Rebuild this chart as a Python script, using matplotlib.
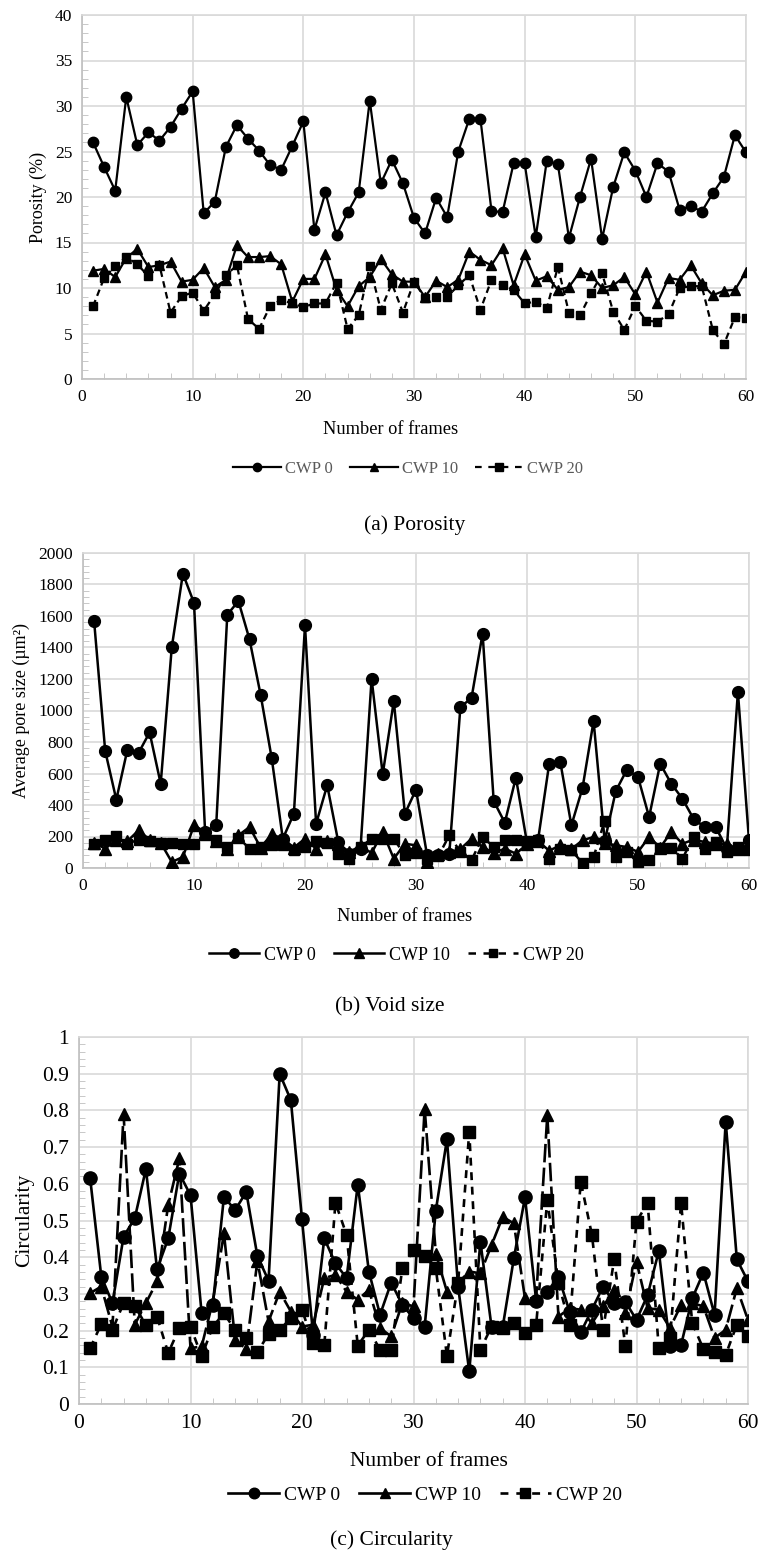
import numpy as np
import matplotlib
matplotlib.use("Agg")
import matplotlib.pyplot as plt
from matplotlib.lines import Line2D
from matplotlib.ticker import MultipleLocator, FuncFormatter

plt.rcParams['font.family'] = ['Liberation Serif', 'DejaVu Serif']

frames = np.arange(1, 61)
series_names = ["CWP 0", "CWP 10", "CWP 20"]

# (a) porosity, %
porosity_cwp0 = [26.0, 23.3, 20.7, 31.0, 25.7, 27.1, 26.2, 27.7, 29.7, 31.6,
                 18.2, 19.5, 25.5, 27.9, 26.4, 25.1, 23.5, 23.0, 25.6, 28.3,
                 16.4, 20.5, 15.8, 18.3, 20.5, 30.6, 21.5, 24.1, 21.5, 17.7,
                 16.0, 19.9, 17.8, 25.0, 28.6, 28.6, 18.5, 18.3, 23.7, 23.7,
                 15.6, 24.0, 23.6, 15.5, 20.0, 24.2, 15.4, 21.1, 24.9, 22.9,
                 20.0, 23.7, 22.8, 18.6, 19.0, 18.4, 20.4, 22.2, 26.8, 24.9]
porosity_cwp10 = [11.9, 12.1, 11.2, 13.3, 14.3, 12.3, 12.5, 12.9, 10.7, 10.9,
                  12.2, 10.1, 10.9, 14.7, 13.4, 13.4, 13.5, 12.6, 8.5, 11.0,
                  11.0, 13.7, 9.8, 8.0, 10.2, 11.2, 13.2, 11.5, 10.7, 10.7,
                  9.0, 10.8, 10.1, 10.9, 14.0, 13.1, 12.5, 14.4, 10.3, 13.7,
                  10.8, 11.3, 9.8, 10.1, 11.8, 11.4, 10.0, 10.3, 11.2, 9.3,
                  11.8, 8.4, 11.1, 10.9, 12.5, 10.5, 9.2, 9.7, 9.8, 11.8]
porosity_cwp20 = [8.0, 11.1, 12.4, 13.4, 12.6, 11.3, 12.5, 7.3, 9.1, 9.5,
                  7.5, 9.3, 11.4, 12.5, 6.6, 5.5, 8.0, 8.7, 8.3, 7.9,
                  8.3, 8.3, 10.6, 5.5, 7.0, 12.4, 7.6, 10.5, 7.3, 10.7,
                  8.9, 9.0, 9.0, 10.3, 11.4, 7.6, 10.9, 10.3, 9.8, 8.3,
                  8.5, 7.8, 12.3, 7.3, 7.0, 9.4, 11.6, 7.4, 5.4, 8.0,
                  6.4, 6.3, 7.1, 10.0, 10.2, 10.2, 5.4, 3.8, 6.8, 6.7]

# (b) average pore size, um^2
pore_cwp0 = [1568, 743, 434, 751, 730, 861, 535, 1403, 1869, 1683,
             230, 271, 1608, 1695, 1452, 1100, 698, 186, 345, 1541,
             281, 525, 165, 90, 123, 1202, 595, 1060, 345, 497,
             80, 80, 91, 1022, 1079, 1488, 425, 288, 574, 160,
             180, 662, 673, 271, 508, 933, 170, 489, 624, 578,
             324, 662, 535, 440, 313, 260, 260, 123, 1117, 176]
pore_cwp10 = [160, 123, 180, 170, 239, 180, 160, 38, 70, 271,
              229, 170, 120, 207, 260, 130, 214, 186, 130, 186,
              123, 170, 150, 102, 140, 95, 229, 59, 154, 144,
              38, 90, 100, 120, 186, 133, 95, 123, 91, 150,
              170, 110, 144, 120, 176, 197, 160, 144, 133, 102,
              197, 130, 229, 154, 180, 165, 154, 150, 120, 130]
pore_cwp20 = [154, 180, 201, 154, 180, 171, 161, 161, 150, 150,
              207, 176, 133, 193, 123, 133, 148, 144, 116, 133,
              171, 159, 91, 59, 133, 186, 186, 186, 80, 95,
              59, 74, 207, 102, 49, 197, 133, 176, 176, 171,
              180, 59, 123, 112, 32, 70, 300, 70, 102, 38,
              49, 129, 129, 59, 197, 123, 165, 102, 133, 112]

# (c) circularity
circ_cwp0 = [0.615, 0.347, 0.275, 0.456, 0.506, 0.640, 0.367, 0.451, 0.628, 0.569,
             0.247, 0.27, 0.565, 0.528, 0.578, 0.403, 0.336, 0.900, 0.828, 0.503,
             0.189, 0.451, 0.383, 0.343, 0.598, 0.361, 0.243, 0.331, 0.270, 0.234,
             0.211, 0.527, 0.721, 0.320, 0.089, 0.442, 0.21, 0.21, 0.397, 0.563,
             0.282, 0.306, 0.347, 0.252, 0.195, 0.257, 0.320, 0.275, 0.279, 0.229,
             0.297, 0.417, 0.157, 0.161, 0.288, 0.358, 0.243, 0.769, 0.394, 0.334]
circ_cwp10 = [0.302, 0.32, 0.21, 0.79, 0.216, 0.275, 0.334, 0.542, 0.669, 0.152,
              0.157, 0.279, 0.465, 0.175, 0.150, 0.39, 0.225, 0.306, 0.252, 0.211,
              0.216, 0.343, 0.352, 0.306, 0.284, 0.311, 0.207, 0.184, 0.275, 0.266,
              0.805, 0.41, 0.306, 0.33, 0.361, 0.356, 0.433, 0.510, 0.492, 0.288,
              0.288, 0.787, 0.238, 0.261, 0.257, 0.220, 0.266, 0.31, 0.248, 0.388,
              0.261, 0.257, 0.207, 0.270, 0.275, 0.266, 0.180, 0.202, 0.316, 0.229]
circ_cwp20 = [0.152, 0.218, 0.202, 0.275, 0.266, 0.216, 0.238, 0.139, 0.207, 0.211,
              0.130, 0.211, 0.247, 0.202, 0.180, 0.141, 0.191, 0.202, 0.234, 0.257,
              0.166, 0.161, 0.548, 0.461, 0.159, 0.202, 0.148, 0.148, 0.370, 0.420,
              0.403, 0.370, 0.131, 0.33, 0.742, 0.148, 0.211, 0.207, 0.220, 0.193,
              0.216, 0.556, 0.33, 0.216, 0.606, 0.461, 0.202, 0.394, 0.157, 0.497,
              0.548, 0.152, 0.180, 0.547, 0.220, 0.150, 0.143, 0.134, 0.216, 0.184]

W, H = 759, 1562
fig = plt.figure(figsize=(W / 100, H / 100), dpi=100)
GRID = "#d9d9d9"


def px_rect(left, top, right, bottom):
    return [left / W, 1 - bottom / H, (right - left) / W, (bottom - top) / H]


def panel(rect, data, ymax, ystep, yminor, ylabel, fs_tick, fs_label, fs_leg,
          ms, lw, ls10, ls20, leg_color, xlab_xy, leg_xy, cap_text, cap_xy,
          fs_xlab, fs_cap, handlelen):
    ax = fig.add_axes(px_rect(*rect))
    markers = ["o", "^", "s"]
    styles = ["-", ls10, ls20]
    sizes = [ms, ms * 0.95, ms * 0.85]
    for vals, mk, ls, sz in zip(data, markers, styles, sizes):
        ax.plot(frames, vals, color="black", linestyle=ls, linewidth=lw,
                marker=mk, markersize=sz, zorder=3)
    ax.set_xlim(0, 60)
    ax.set_ylim(0, ymax)
    ax.xaxis.set_major_locator(MultipleLocator(10))
    ax.xaxis.set_minor_locator(MultipleLocator(2))
    ax.yaxis.set_major_locator(MultipleLocator(ystep))
    ax.yaxis.set_minor_locator(MultipleLocator(yminor))
    ax.yaxis.set_major_formatter(FuncFormatter(lambda v, p: "%g" % round(v, 6)))
    ax.grid(True, which="major", color=GRID, linewidth=1.2, zorder=0)
    ax.set_axisbelow(True)
    for s in ax.spines.values():
        s.set_color(GRID)
        s.set_linewidth(1.2)
    ax.spines["left"].set_color("#bfbfbf")
    ax.spines["bottom"].set_color("#bfbfbf")
    ax.tick_params(which="major", length=0, labelsize=fs_tick, pad=7,
                   labelcolor="black")
    ax.tick_params(which="minor", direction="in", length=4, color="#bfbfbf",
                   top=False, right=False)
    ax.set_ylabel(ylabel, fontsize=fs_label, labelpad=6)
    fig.text(xlab_xy[0] / W, 1 - xlab_xy[1] / H, "Number of frames",
             fontsize=fs_xlab, ha="center", va="center")
    handles = [Line2D([], [], color="black", lw=lw, ls="-", marker="o", markersize=ms * 0.8),
               Line2D([], [], color="black", lw=lw, ls="-", marker="^", markersize=ms * 0.8),
               Line2D([], [], color="black", lw=lw, ls=(0, (3, 3)), marker="s", markersize=ms * 0.7)]
    fig.legend(handles, series_names, loc="center", ncol=3, frameon=False,
               bbox_to_anchor=(leg_xy[0] / W, 1 - leg_xy[1] / H),
               fontsize=fs_leg, labelcolor=leg_color, handlelength=handlelen,
               columnspacing=1.0, handletextpad=0.25)
    fig.text(cap_xy[0] / W, 1 - cap_xy[1] / H, cap_text, fontsize=fs_cap,
             ha="center", va="center")
    return ax


panel((82, 15, 746, 379), [porosity_cwp0, porosity_cwp10, porosity_cwp20],
      40, 5, 1, "Porosity (%)", 12.5, 13, 12, 7.5, 1.6, "-", (0, (3, 2)),
      "#595959", (391, 430), (408, 469), "(a) Porosity", (415, 525), 13.2, 15.5, 2.9)

panel((83, 553, 749, 868), [pore_cwp0, pore_cwp10, pore_cwp20],
      2000, 200, 40, "Average pore size (µm²)", 12.5, 13, 13, 8.5, 1.8, "-", (0, (3, 2)),
      "black", (405, 917), (396, 955), "(b) Void size", (390, 1007), 13.2, 15.5, 2.8)

panel((79, 1037, 748, 1404), [circ_cwp0, circ_cwp10, circ_cwp20],
      1, 0.1, 0.02, "Circularity", 15.5, 15.5, 14, 9.5, 1.9, (0, (7, 2)), (0, (3, 2.5)),
      "black", (429, 1462), (425, 1495), "(c) Circularity", (391, 1540), 15.5, 15.5, 2.6)

fig.savefig("out.png", dpi=100)
